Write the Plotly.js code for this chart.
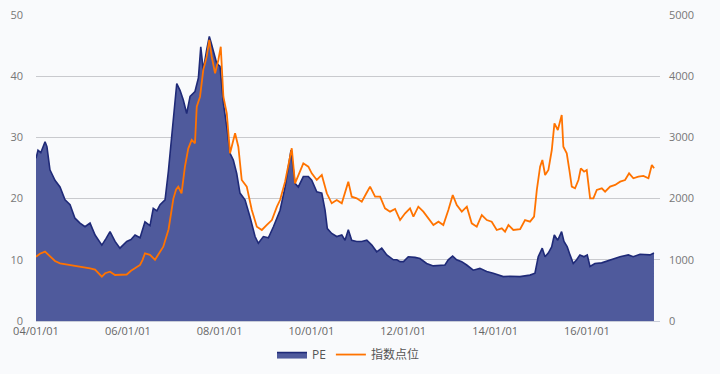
<!DOCTYPE html>
<html>
<head>
<meta charset="utf-8">
<script src="https://cdn.plot.ly/plotly-3.0.1.min.js"></script>
<style>html,body{margin:0;padding:0;background:#f9fafc;}#chart{width:720px;height:374px;}</style>
</head>
<body>
<div id="chart"></div>
<script>
// PE series (left axis)
var peDates = ["2004-01-01","2004-01-17","2004-02-08","2004-03-13","2004-03-28","2004-04-21","2004-05-31","2004-07-10","2004-08-19","2004-09-28","2004-11-06","2004-12-16","2005-01-25","2005-03-06","2005-04-15","2005-06-08","2005-07-12","2005-08-12","2005-09-21","2005-10-30","2005-12-23","2006-01-26","2006-02-27","2006-04-08","2006-05-17","2006-06-26","2006-07-22","2006-08-20","2006-09-14","2006-10-24","2006-11-19","2006-12-16","2006-12-29","2007-01-25","2007-02-20","2007-03-18","2007-04-14","2007-05-11","2007-06-19","2007-07-16","2007-08-04","2007-08-24","2007-09-20","2007-10-11","2007-10-25","2007-11-12","2007-12-09","2008-01-04","2008-01-31","2008-02-27","2008-03-24","2008-04-19","2008-05-16","2008-06-11","2008-07-21","2008-08-30","2008-10-09","2008-11-04","2008-12-14","2009-01-23","2009-03-04","2009-04-26","2009-06-05","2009-07-01","2009-07-22","2009-08-23","2009-09-18","2009-10-28","2009-12-07","2010-01-03","2010-02-12","2010-03-24","2010-04-19","2010-05-07","2010-06-11","2010-07-21","2010-08-30","2010-09-25","2010-10-21","2010-11-17","2010-12-27","2011-02-05","2011-03-17","2011-04-26","2011-06-04","2011-07-14","2011-08-23","2011-10-15","2011-11-11","2011-12-07","2012-01-03","2012-02-10","2012-04-03","2012-05-13","2012-07-05","2012-08-27","2012-10-19","2012-11-28","2012-12-24","2013-01-28","2013-03-01","2013-04-10","2013-05-20","2013-07-11","2013-09-02","2013-10-26","2013-12-17","2014-03-07","2014-04-29","2014-07-18","2014-10-05","2014-11-14","2014-12-10","2015-01-11","2015-02-02","2015-02-28","2015-03-27","2015-04-17","2015-05-14","2015-06-14","2015-07-03","2015-07-29","2015-08-20","2015-09-15","2015-10-12","2015-11-07","2015-12-09","2016-01-04","2016-01-26","2016-03-05","2016-04-28","2016-06-19","2016-08-12","2016-09-21","2016-11-26","2017-01-04","2017-02-27","2017-04-08","2017-05-17","2017-06-18"];
var peValues = [26.6,27.9,27.5,29.3,28.5,24.7,23.0,21.9,19.8,19.0,16.8,16.0,15.4,16.0,14.05,12.4,13.5,14.6,13.0,11.9,13.0,13.3,14.05,13.6,16.2,15.6,18.4,18.0,19.0,19.8,24.4,30.1,33.7,38.8,37.7,36.1,33.9,36.7,37.5,39.7,44.8,41.0,44.3,46.5,45.5,44.3,42.1,41.6,35.6,31.7,27.4,26.3,24.1,20.9,19.8,17.0,13.8,12.7,13.8,13.6,15.4,18.1,21.9,25.2,27.9,22.5,21.9,23.6,23.6,23.0,21.1,20.9,18.1,15.1,14.3,13.8,14.05,13.2,14.9,13.2,13.0,13.0,13.2,12.4,11.3,11.9,10.8,10.0,10.0,9.7,9.7,10.5,10.4,10.2,9.4,9.0,9.15,9.15,10.0,10.6,10.0,9.7,9.15,8.3,8.6,8.1,7.8,7.25,7.3,7.25,7.5,7.8,10.5,11.9,10.5,11.1,12.1,14.05,13.2,14.6,13.0,12.1,10.8,9.4,10.0,10.8,10.5,10.8,8.9,9.4,9.5,9.85,10.2,10.5,10.8,10.5,10.9,10.8,10.8,11.1];

// Index level series (right axis)
var idxDates = ["2004-01-01","2004-02-01","2004-03-13","2004-04-21","2004-05-31","2004-07-10","2004-08-19","2004-09-28","2004-11-06","2004-12-16","2005-01-25","2005-03-06","2005-04-15","2005-06-08","2005-07-04","2005-08-12","2005-09-21","2005-10-30","2005-12-23","2006-01-26","2006-02-27","2006-04-08","2006-04-28","2006-05-17","2006-06-26","2006-08-05","2006-09-14","2006-10-10","2006-11-21","2006-12-29","2007-01-20","2007-02-06","2007-03-04","2007-03-31","2007-04-27","2007-05-24","2007-06-19","2007-07-03","2007-07-29","2007-08-24","2007-09-20","2007-10-11","2007-10-30","2007-11-26","2007-12-22","2008-01-10","2008-01-31","2008-02-27","2008-03-24","2008-05-03","2008-05-29","2008-06-25","2008-08-04","2008-09-13","2008-10-23","2008-12-02","2009-01-11","2009-02-20","2009-04-01","2009-04-26","2009-06-05","2009-07-01","2009-07-28","2009-08-23","2009-10-02","2009-10-28","2009-12-07","2010-01-03","2010-02-12","2010-03-24","2010-05-03","2010-06-11","2010-07-21","2010-08-30","2010-10-21","2010-11-17","2010-12-27","2011-02-05","2011-03-17","2011-04-12","2011-05-22","2011-07-01","2011-08-09","2011-09-18","2011-10-28","2011-12-07","2012-01-16","2012-02-24","2012-03-22","2012-04-30","2012-06-09","2012-07-19","2012-08-28","2012-10-07","2012-11-15","2012-12-25","2013-01-29","2013-03-02","2013-04-11","2013-05-21","2013-06-29","2013-08-08","2013-09-17","2013-10-27","2013-12-05","2014-01-14","2014-02-23","2014-03-21","2014-04-17","2014-05-26","2014-07-19","2014-08-27","2014-10-06","2014-11-07","2014-11-29","2014-12-25","2015-01-12","2015-02-03","2015-03-01","2015-03-28","2015-04-18","2015-05-15","2015-06-02","2015-06-15","2015-06-28","2015-07-25","2015-08-15","2015-09-03","2015-09-29","2015-10-26","2015-11-14","2015-12-10","2015-12-31","2016-01-27","2016-02-22","2016-03-20","2016-04-29","2016-05-25","2016-07-04","2016-08-13","2016-09-22","2016-10-31","2016-12-02","2017-01-05","2017-02-14","2017-03-26","2017-05-05","2017-06-01","2017-06-19"];
var idxValues = [1050,1100,1133,1050,980,943,930,915,900,888,880,860,840,724,780,806,752,752,760,820,860,915,1000,1106,1080,1000,1133,1214,1500,2000,2150,2196,2087,2521,2822,2958,2904,3501,3665,4101,4319,4592,4319,4047,4265,4482,3665,3394,2740,3067,2848,2304,2196,1814,1541,1487,1569,1650,1868,1977,2277,2577,2822,2250,2467,2577,2521,2413,2304,2386,2087,1923,1977,1923,2277,2031,2005,1950,2100,2196,2031,2031,1841,1787,1830,1650,1760,1841,1705,1868,1787,1678,1569,1623,1569,1814,2059,1895,1787,1868,1596,1541,1732,1650,1623,1487,1514,1460,1569,1487,1500,1650,1623,1705,2141,2521,2631,2386,2467,2794,3230,3121,3284,3366,2848,2740,2467,2196,2168,2304,2495,2440,2467,2005,2005,2141,2168,2114,2196,2223,2277,2304,2413,2332,2359,2370,2332,2549,2495];

var seriesNames = ["PE", "指数点位"];

var traces = [
  {
    x: peDates, y: peValues, name: seriesNames[0], type: "scatter", mode: "lines",
    fill: "tozeroy", fillcolor: "#4f5a9c",
    line: {color: "#1f2a78", width: 1.6}, yaxis: "y"
  },
  {
    x: idxDates, y: idxValues, name: seriesNames[1], type: "scatter", mode: "lines",
    line: {color: "#ff7300", width: 1.8}, yaxis: "y2"
  }
];

var layout = {
  width: 720, height: 374,
  margin: {l: 36, r: 60, t: 15, b: 53},
  paper_bgcolor: "#f9fafc", plot_bgcolor: "#f9fafc",
  font: {family: "'Open Sans', 'Noto Sans CJK SC', sans-serif", size: 11, color: "#666"},
  showlegend: true,
  legend: {orientation: "h", x: 0.5, xanchor: "center", yref: "container", y: 0.052, yanchor: "middle", font: {size: 12, color: "#555"}},
  xaxis: {
    type: "date", range: ["2004-01-01", "2017-08-05"], automargin: false,
    tick0: "2004-01-01", dtick: "M24", tickformat: "%y/%m/%d",
    showgrid: false, showline: true, linecolor: "#c8ccd8", zeroline: false,
    ticks: "",
    tickfont: {size: 11, color: "#666"}
  },
  yaxis: {
    range: [0, 50], dtick: 10, showgrid: true, gridcolor: "#c9cace", gridwidth: 1, automargin: false,
    zeroline: false, ticks: "", tickfont: {size: 11, color: "#777"}, ticklabelstandoff: 12
  },
  yaxis2: {
    range: [0, 5000], dtick: 1000, overlaying: "y", side: "right", automargin: false,
    showgrid: false, zeroline: false, tickfont: {size: 11, color: "#777"}, ticklabelstandoff: 8
  }
};

Plotly.newPlot("chart", traces, layout, {displayModeBar: false, staticPlot: true});
</script>
</body>
</html>
